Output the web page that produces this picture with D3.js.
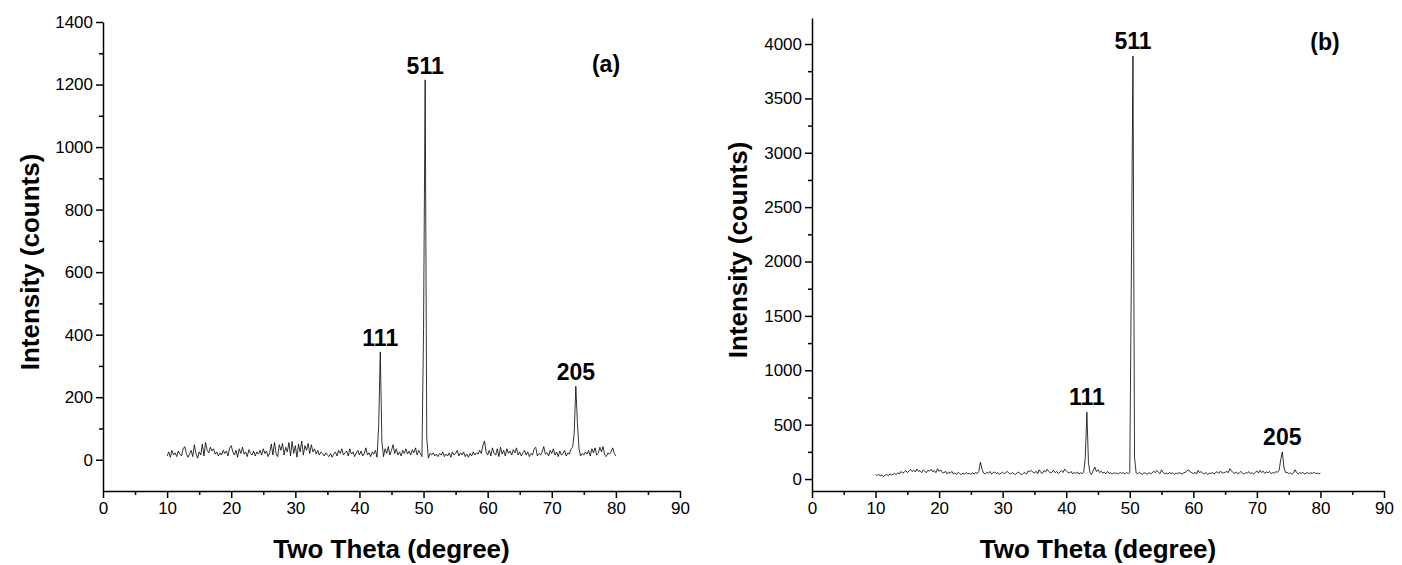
<!DOCTYPE html>
<html lang="en">
<head>
<meta charset="utf-8">
<script src="https://d3js.org/d3.v7.min.js"></script>
<style>
  body { margin: 0; background: #fff; }
  svg { display: block; font-family: "Liberation Sans", Arial, sans-serif; }
  .tick text { font-size: 17px; fill: #000; }
  .axis path, .axis line { stroke: #000; stroke-width: 1.5; }
  .axis-title { font-size: 26px; font-weight: bold; }
  .peak-label { font-size: 23px; font-weight: bold; }
</style>
</head>
<body>
<svg width="1402" height="565"></svg>
<script>
// scan grid, degrees two theta
const thetaStart = 10, thetaStep = 0.25;

// sample (a), counts, 10.00 .. 80.00
const countsA = [
  12,25,8,30,15,22,10,28,18,12, 35,42,20,8,18,30,10,48,20,5, 25,15,50,12,55,30,22,40,28,35, 18,25,12,22,15,30,20,28,12,38,
  45,25,15,30,8,35,20,40,18,25, 10,32,20,15,28,12,25,18,30,15, 35,20,28,10,22,50,15,55,20,10, 48,30,52,15,40,25,55,12,58,20,
  45,8,50,25,60,15,45,30,52,20, 48,25,35,18,30,15,25,20,12,22, 15,10,20,8,18,25,12,30,20,35, 15,22,28,12,35,18,25,10,22,30,
  15,28,12,20,38,15,22,10,25,18, 30,8,110,345,60,10,35,20,42,15, 30,48,20,35,15,25,12,30,20,35, 18,28,15,32,22,38,15,30,20,10,
  420,1215,70,5,20,15,22,12,18,10, 20,15,25,10,18,12,22,8,25,15, 20,30,12,22,15,25,10,18,8,20, 12,25,15,22,18,30,20,45,60,25,
  15,30,12,38,20,15,35,10,40,18, 30,12,35,20,28,15,32,22,38,15, 25,12,22,30,15,25,10,20,15,35, 40,12,20,15,25,42,18,22,12,30,
  20,35,15,25,10,28,15,20,30,12, 22,18,35,40,85,235,115,35,12,20, 15,25,18,30,12,35,22,38,15,20, 40,25,42,15,10,22,18,25,38,20,
  12
];

// sample (b), counts, 10.00 .. 80.00
const countsB = [
  40,32,45,28,38,22,35,42,30,48, 36,44,52,40,58,46,70,55,62,78, 60,72,88,68,82,64,92,70,78,58, 85,68,60,82,72,90,66,78,58,95,
  70,85,60,55,72,48,65,52,70,45, 58,42,62,50,40,55,45,60,48,52, 42,58,46,62,50,70,155,90,55,48, 62,52,70,45,58,65,50,60,42,55,
  62,48,58,70,52,45,60,50,42,55, 65,48,40,52,60,45,75,68,80,62, 55,72,48,85,60,52,78,65,90,70, 55,62,82,58,70,50,65,78,60,92,
  75,62,55,70,48,60,52,65,45,58, 50,62,200,615,150,55,42,80,110,68, 85,60,72,55,62,48,70,52,58,45, 60,50,55,48,62,52,58,45,60,50,
  60,1900,3890,200,55,48,62,50,45,58, 52,42,60,48,55,72,58,80,62,50, 85,60,48,55,45,62,50,58,42,55, 48,60,52,45,58,62,75,85,65,58,
  50,62,45,80,58,70,52,48,60,42, 55,50,62,45,58,68,52,72,60,55, 62,70,58,95,75,60,52,65,48,58, 70,52,45,60,55,68,50,58,45,62,
  75,55,80,60,72,52,65,58,70,48, 60,55,68,62,80,180,248,110,60,62, 50,58,45,55,85,60,48,58,52,62, 45,55,60,48,58,52,62,50,55,48,
  52
];

const peaksA = [
  { hkl: "111", theta: 43.25, counts: 345 },
  { hkl: "511", theta: 50.25, counts: 1215 },
  { hkl: "205", theta: 73.75, counts: 235 }
];
const peaksB = [
  { hkl: "111", theta: 43.25, counts: 615 },
  { hkl: "511", theta: 50.5, counts: 3890 },
  { hkl: "205", theta: 74.0, counts: 248 }
];

const xTicks = [0, 10, 20, 30, 40, 50, 60, 70, 80, 90];
const yTicksA = [0, 200, 400, 600, 800, 1000, 1200, 1400];
const yTicksB = [0, 500, 1000, 1500, 2000, 2500, 3000, 3500, 4000];

const svg = d3.select("svg");

function drawPanel(opt) {
  const g = svg.append("g");
  const x = d3.scaleLinear().domain([0, 90]).range([opt.x0, opt.x1]);
  const y = d3.scaleLinear().domain(opt.yDomain).range([opt.yBottom, opt.yTop]);

  // minor ticks first, majors on top
  g.append("g").attr("class", "axis")
    .attr("transform", `translate(0,${opt.yBottom})`)
    .call(d3.axisBottom(x).tickValues(d3.range(5, 90, 10)).tickSize(4).tickFormat(""))
    .select(".domain").remove();
  g.append("g").attr("class", "axis")
    .attr("transform", `translate(${opt.x0},0)`)
    .call(d3.axisLeft(y).tickValues(opt.yMinor).tickSize(4).tickFormat(""))
    .select(".domain").remove();

  g.append("g").attr("class", "axis")
    .attr("transform", `translate(0,${opt.yBottom})`)
    .call(d3.axisBottom(x).tickValues(xTicks).tickSize(7).tickSizeOuter(0).tickPadding(4).tickFormat(d3.format("d")));
  g.append("g").attr("class", "axis")
    .attr("transform", `translate(${opt.x0},0)`)
    .call(d3.axisLeft(y).tickValues(opt.yTicks).tickSize(7).tickSizeOuter(0).tickPadding(3).tickFormat(d3.format("d")));

  const line = d3.line()
    .x((d, i) => x(thetaStart + i * thetaStep))
    .y(d => y(d));

  g.append("path")
    .datum(opt.counts)
    .attr("fill", "none")
    .attr("stroke", "#000")
    .attr("stroke-width", 0.8)
    .attr("stroke-linejoin", "round")
    .attr("d", line);

  g.selectAll(".peak-label")
    .data(opt.peaks)
    .enter().append("text")
    .attr("class", "peak-label")
    .attr("text-anchor", "middle")
    .attr("x", d => x(d.theta))
    .attr("y", d => y(d.counts) - opt.labelGap)
    .text(d => d.hkl);

  g.append("text")
    .attr("class", "peak-label")
    .attr("text-anchor", "middle")
    .attr("x", opt.tagX)
    .attr("y", opt.tagY)
    .text(opt.tag);

  g.append("text")
    .attr("class", "axis-title")
    .attr("text-anchor", "middle")
    .attr("x", (opt.x0 + opt.x1) / 2)
    .attr("y", 558)
    .text("Two Theta (degree)");

  g.append("text")
    .attr("class", "axis-title")
    .attr("text-anchor", "middle")
    .attr("transform", `translate(${opt.titleX},${opt.titleY}) rotate(-90)`)
    .text("Intensity (counts)");
}

drawPanel({
  x0: 103, x1: 680, yBottom: 491, yTop: 22,
  yDomain: [-100, 1400], yTicks: yTicksA, yMinor: d3.range(100, 1400, 200),
  counts: countsA, peaks: peaksA, labelGap: 6,
  tag: "(a)", tagX: 606, tagY: 72,
  titleX: 39, titleY: 262
});

drawPanel({
  x0: 812, x1: 1384, yBottom: 491, yTop: 17.9,
  yDomain: [-110, 4240], yTicks: yTicksB, yMinor: d3.range(250, 4240, 500),
  counts: countsB, peaks: peaksB, labelGap: 7,
  tag: "(b)", tagX: 1325, tagY: 50,
  titleX: 747, titleY: 250
});
</script>
</body>
</html>
